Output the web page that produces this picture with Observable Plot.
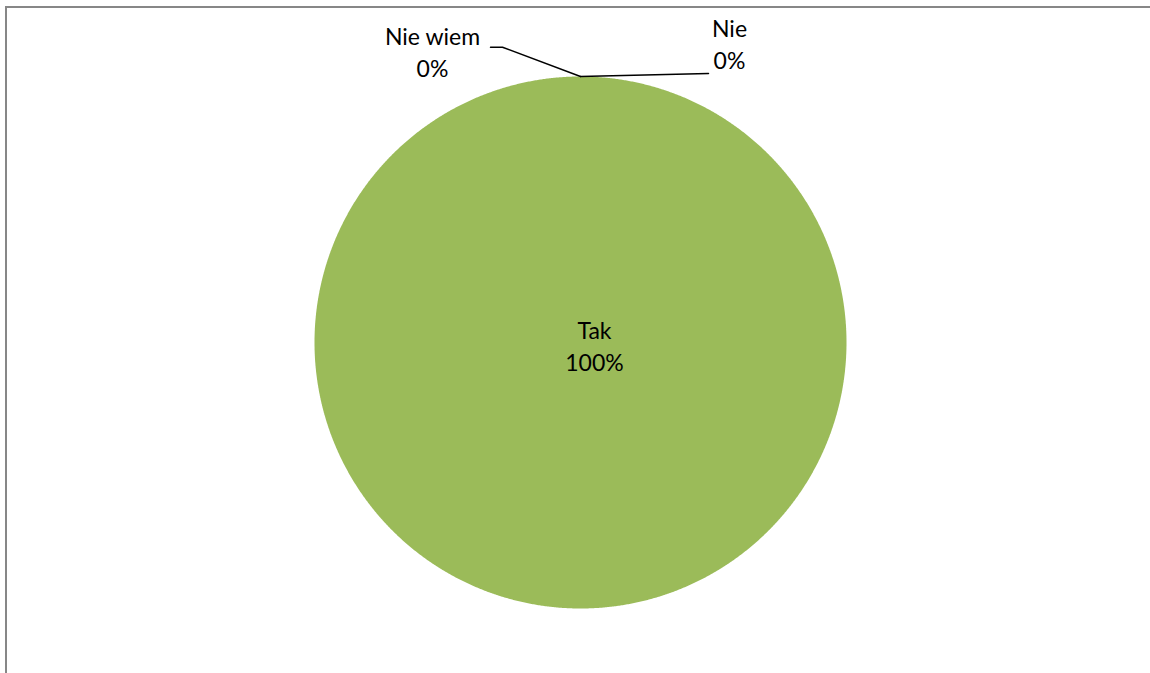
<!DOCTYPE html>
<html>
<head>
<meta charset="utf-8">
<script src="https://cdn.jsdelivr.net/npm/d3@7"></script>
<script src="https://cdn.jsdelivr.net/npm/@observablehq/plot@0.6"></script>
<style>
  html, body { margin: 0; padding: 0; background: #fff; overflow: hidden; width: 1150px; height: 673px; }
  #wrap { position: relative; width: 1150px; height: 673px; }
  #border { position: absolute; left: 5px; top: 6px; width: 1200px; height: 720px; border: 2px solid #878787; box-sizing: border-box; pointer-events: none; }
  #chart { position: absolute; left: 0; top: 0; }
</style>
</head>
<body>
<div id="wrap"><div id="chart"></div><div id="border"></div></div>
<script>
// Data
const categories = ["Tak", "Nie", "Nie wiem"];
const values = [100, 0, 0];
const percentLabels = ["100%", "0%", "0%"];
const sliceColors = ["#9BBB59", "#C0504D", "#4F81BD"];

// Layout (pixel offsets relative to the pie centre, y upward)
const W = 1150, H = 673;
const CX = 580, CY = 342, R = 266;
const labelPos = {
  "Tak": [14, -2],
  "Nie": [149, 299.5],
  "Nie wiem": [-148, 291.5]
};
const leaderEnds = {
  "Nie": [[128, 269]],
  "Nie wiem": [[-78, 295.3], [-90, 295.3]]
};

const pie = d3.pie().sort(null).value(d => d.value).startAngle(0).endAngle(2 * Math.PI);
const arcs = pie(categories.map((c, i) => ({cat: c, value: values[i], pct: percentLabels[i], color: sliceColors[i]})));

// Slice outlines derived from the pie angles
const slicePts = [];
for (const a of arcs) {
  if (a.endAngle - a.startAngle <= 0) continue;
  const n = Math.max(2, Math.ceil((a.endAngle - a.startAngle) / (Math.PI / 720)));
  const full = a.endAngle - a.startAngle >= 2 * Math.PI - 1e-9;
  if (!full) slicePts.push({cat: a.data.cat, x: 0, y: 0});
  for (let k = 0; k <= n; k++) {
    const t = a.startAngle + (a.endAngle - a.startAngle) * k / n;
    slicePts.push({cat: a.data.cat, x: R * Math.sin(t), y: R * Math.cos(t)});
  }
}

// Labels and leader lines
const labels = arcs.map(a => ({cat: a.data.cat, text: a.data.cat + "\n" + a.data.pct, x: labelPos[a.data.cat][0], y: labelPos[a.data.cat][1]}));
const leaders = [];
for (const a of arcs) {
  const ends = leaderEnds[a.data.cat];
  if (!ends) continue;
  const mid = (a.startAngle + a.endAngle) / 2;
  leaders.push({cat: a.data.cat, x: R * Math.sin(mid), y: R * Math.cos(mid)});
  for (const e of ends) leaders.push({cat: a.data.cat, x: e[0], y: e[1]});
}

const colorMap = Object.fromEntries(arcs.map(a => [a.data.cat, a.data.color]));

const chart = Plot.plot({
  width: W,
  height: H,
  margin: 0,
  style: {background: "transparent", fontFamily: "Lato, 'Liberation Sans', sans-serif"},
  x: {domain: [-CX, W - CX], range: [0, W], axis: null},
  y: {domain: [-(H - CY), CY], range: [H, 0], axis: null},
  marks: [
    Plot.line(slicePts, {x: "x", y: "y", z: "cat", fill: d => colorMap[d.cat], stroke: null, curve: "linear"}),
    Plot.line(leaders, {x: "x", y: "y", z: "cat", stroke: "#000", strokeWidth: 1.5, curve: "linear"}),
    Plot.text(labels, {x: "x", y: "y", text: "text", fontSize: 23, lineHeight: 1.4, fill: "#000", textAnchor: "middle", lineAnchor: "middle"})
  ]
});
document.getElementById("chart").appendChild(chart);
</script>
</body>
</html>
